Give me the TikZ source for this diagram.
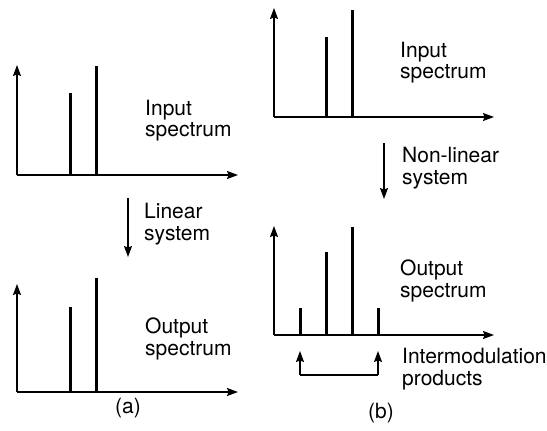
\documentclass[tikz,border=0pt]{standalone}
\usepackage{fontspec}
\setmainfont{TeX Gyre Heros}
\usetikzlibrary{arrows.meta}
\begin{document}
\begin{tikzpicture}[x=1pt,y=-1pt,
  axis/.style={line width=1.2pt,-{Stealth[length=11pt,width=8pt,inset=1.5pt]}},
  flow/.style={line width=1.2pt,-{Stealth[length=11pt,width=8pt,inset=1.5pt]}},
  spec/.style={line width=3pt},
  lbl/.style={anchor=base west,inner sep=0pt,font=\fontsize{21}{22}\selectfont},
  captxt/.style={inner sep=0pt,font=\fontsize{21}{22}\selectfont}]
\useasboundingbox (0,0) rectangle (547,431);
% ---- (a) input
\coordinate (a1o) at (17,175);
\coordinate (a1y) at (17,65);
\coordinate (a1x) at (238,175);
\draw[axis] (a1o) -- (a1y);
\draw[axis] (a1o) -- (a1x);
\coordinate (a1b1) at (70,175); \coordinate (a1t1) at (70,93);
\coordinate (a1b2) at (96,175); \coordinate (a1t2) at (96,66);
\draw[spec] (a1b1) -- (a1t1);
\draw[spec] (a1b2) -- (a1t2);
\node[lbl] (a1l1) at (145,115) {Input};
\node[lbl] (a1l2) at (145,136) {spectrum};
% ---- (a) system
\coordinate (aas) at (128,198);
\coordinate (aae) at (128,257);
\draw[flow] (aas) -- (aae);
\node[lbl] (asl1) at (144,218) {Linear};
\node[lbl] (asl2) at (144,240) {system};
% ---- (a) output
\coordinate (a2o) at (17,392);
\coordinate (a2y) at (17,284);
\coordinate (a2x) at (238,392);
\draw[axis] (a2o) -- (a2y);
\draw[axis] (a2o) -- (a2x);
\coordinate (a2b1) at (70,392); \coordinate (a2t1) at (70,307);
\coordinate (a2b2) at (96,392); \coordinate (a2t2) at (96,278);
\draw[spec] (a2b1) -- (a2t1);
\draw[spec] (a2b2) -- (a2t2);
\node[lbl] (a2l1) at (145,333) {Output};
\node[lbl] (a2l2) at (145,355) {spectrum};
\node[captxt] (capa) at (128,408) {(a)};
% ---- (b) input
\coordinate (b1o) at (274,117);
\coordinate (b1y) at (274,8);
\coordinate (b1x) at (494,117);
\draw[axis] (b1o) -- (b1y);
\draw[axis] (b1o) -- (b1x);
\coordinate (b1b1) at (326,117); \coordinate (b1t1) at (326,37);
\coordinate (b1b2) at (352,117); \coordinate (b1t2) at (352,10);
\draw[spec] (b1b1) -- (b1t1);
\draw[spec] (b1b2) -- (b1t2);
\node[lbl] (b1l1) at (400,57) {Input};
\node[lbl] (b1l2) at (400,78) {spectrum};
% ---- (b) system
\coordinate (bbs) at (384,143);
\coordinate (bbe) at (384,199);
\draw[flow] (bbs) -- (bbe);
\node[lbl] (bsl1) at (402,162) {Non-linear};
\node[lbl] (bsl2) at (402,184) {system};
% ---- (b) output
\coordinate (b2o) at (274,335);
\coordinate (b2y) at (274,226);
\coordinate (b2x) at (494,335);
\draw[axis] (b2o) -- (b2y);
\draw[axis] (b2o) -- (b2x);
\coordinate (b2b1) at (300,335); \coordinate (b2t1) at (300,308);
\coordinate (b2b2) at (326,335); \coordinate (b2t2) at (326,252);
\coordinate (b2b3) at (352,335); \coordinate (b2t3) at (352,227);
\coordinate (b2b4) at (378,335); \coordinate (b2t4) at (378,308);
\draw[spec] (b2b1) -- (b2t1);
\draw[spec] (b2b2) -- (b2t2);
\draw[spec] (b2b3) -- (b2t3);
\draw[spec] (b2b4) -- (b2t4);
\node[lbl] (b2l1) at (400,275) {Output};
\node[lbl] (b2l2) at (400,297) {spectrum};
% intermodulation bracket
\coordinate (imL) at (300,351);
\coordinate (imR) at (378,351);
\coordinate (imLb) at (300,375);
\coordinate (imRb) at (378,375);
\draw[flow] (imLb) -- (imL);
\draw[flow] (imRb) -- (imR);
\draw[line width=1.2pt] (imLb) -- (imRb);
\node[lbl] (iml1) at (402,363) {Intermodulation};
\node[lbl] (iml2) at (402,385) {products};
\node[captxt] (capb) at (381,413) {(b)};
\end{tikzpicture}
\end{document}
